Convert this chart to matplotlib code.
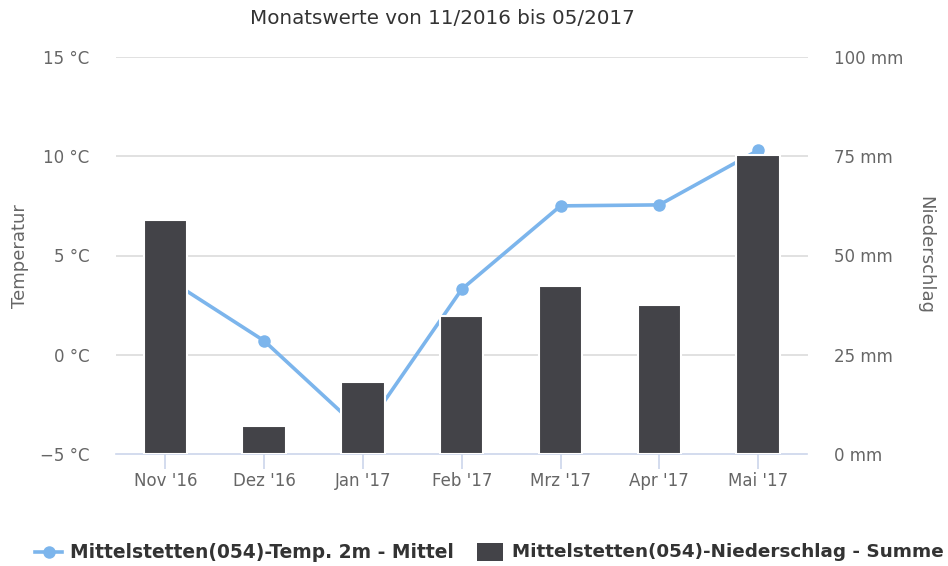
import matplotlib
matplotlib.use("Agg")
import matplotlib.pyplot as plt
from matplotlib.lines import Line2D
from matplotlib.patches import Rectangle

months = ["Nov '16", "Dez '16", "Jan '17", "Feb '17", "Mrz '17", "Apr '17", "Mai '17"]
temp_mean = [3.9, 0.7, -3.9, 3.3, 7.5, 7.55, 10.3]
precip_sum = [59.0, 7.1, 18.1, 34.7, 42.2, 37.6, 75.2]
temp_ticks = [-5, 0, 5, 10, 15]
precip_ticks = [0, 25, 50, 75, 100]

title = "Monatswerte von 11/2016 bis 05/2017"
temp_label = "Mittelstetten(054)-Temp. 2m - Mittel"
precip_label = "Mittelstetten(054)-Niederschlag - Summe"

plt.rcParams['font.family'] = ['DejaVu Sans']

LINE_C = "#7cb5ec"
BAR_C = "#434348"

W, H = 948, 566
fig = plt.figure(figsize=(W / 100, H / 100), dpi=100)
ax = fig.add_axes([116 / W, 1 - 454 / H, (807.5 - 116) / W, (454 - 57) / H])
ax2 = ax.twinx()

x = list(range(len(months)))

for t in temp_ticks[1:]:
    ax.axhline(t, color="#d8d8d8", lw=1.1, zorder=0)

ax.plot(x, temp_mean, color=LINE_C, lw=2.6, marker="o", markersize=9,
        markeredgewidth=0, zorder=3, clip_on=False)
ax2.bar(x, precip_sum, width=0.44, color=BAR_C, edgecolor="white",
        linewidth=1.5, zorder=3)

ax.set_xlim(-0.5, len(months) - 0.5)
ax.set_ylim(temp_ticks[0], temp_ticks[-1])
ax2.set_ylim(precip_ticks[0], precip_ticks[-1])

ax.set_yticks(temp_ticks)
ax.set_yticklabels([f"{t} °C".replace("-", "\u2212") for t in temp_ticks])
ax2.set_yticks(precip_ticks)
ax2.set_yticklabels([f"{t} mm" for t in precip_ticks])
ax.set_xticks(x)
ax.set_xticklabels(months)

for a in (ax, ax2):
    for s in a.spines.values():
        s.set_visible(False)
    a.tick_params(axis="y", length=0, labelsize=12, labelcolor="#666666", pad=19)
ax.tick_params(axis="x", length=11, width=1.2, color="#ccd6eb", labelsize=12,
               labelcolor="#666666", pad=2)
ax.spines["bottom"].set_visible(True)
ax.spines["bottom"].set_color("#ccd6eb")
ax.spines["bottom"].set_linewidth(1.2)

fig.text(20 / W, 1 - 256 / H, "Temperatur", rotation=90, ha="center", va="center",
         fontsize=13, color="#666666")
fig.text(925 / W, 1 - 255 / H, "Niederschlag", rotation=270, ha="center", va="center",
         fontsize=13, color="#666666")
fig.text(442 / W, 1 - 18 / H, title, ha="center", va="center", fontsize=14.3,
         color="#333333")

# legend drawn manually in pixel positions
def fy(py):
    return 1 - py / H

ly = 552
fig.add_artist(Line2D([35 / W, 62 / W], [fy(ly), fy(ly)], color=LINE_C, lw=2.6,
                      transform=fig.transFigure))
fig.add_artist(Line2D([48.5 / W], [fy(ly)], color=LINE_C, marker="o", markersize=9,
                      markeredgewidth=0, transform=fig.transFigure))
t1 = fig.text(70 / W, fy(ly), temp_label, ha="left", va="center", fontsize=13.4,
              fontweight="bold", color="#333333")
fig.add_artist(Rectangle((477 / W, fy(561)), 26 / W, 18 / H, facecolor=BAR_C,
                         edgecolor="none", transform=fig.transFigure))
t2 = fig.text(512 / W, fy(ly), precip_label, ha="left", va="center", fontsize=13.4,
              fontweight="bold", color="#333333")

fig.canvas.draw()
r = fig.canvas.get_renderer()
for t, maxw in ((t1, 388), (t2, 433)):
    w = t.get_window_extent(r).width
    if w > maxw:
        t.set_fontsize(t.get_fontsize() * maxw / w)

fig.savefig("out.png", dpi=100, facecolor="white")
